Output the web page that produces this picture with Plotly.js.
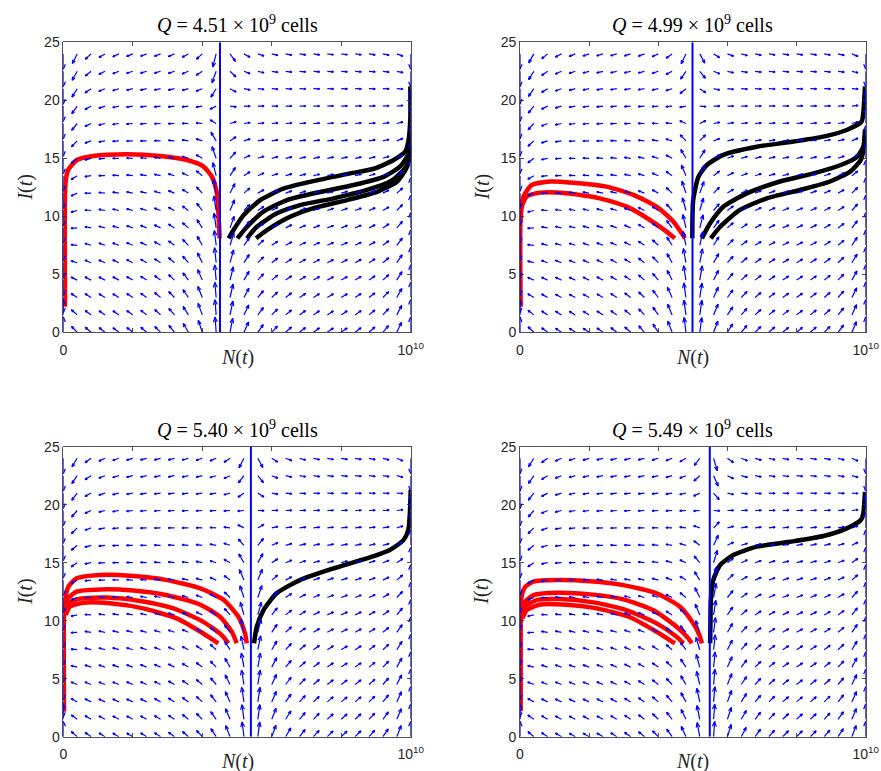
<!DOCTYPE html>
<html><head><meta charset="utf-8">
<script src="https://cdn.plot.ly/plotly-3.0.1.min.js"></script>
<style>body{margin:0;padding:0;background:#fff}#chart{width:881px;height:771px}</style>
</head><body><div id="chart"></div>
<script>
// ================= DATA =================
// N is expressed in units of 10^9 cells, I in model units.
const panelQ = [4.51, 4.99, 5.40, 5.49];
const panelTitles = [
  '<i>Q</i> = 4.51 × 10<sup>9</sup>\u00a0cells',
  '<i>Q</i> = 4.99 × 10<sup>9</sup>\u00a0cells',
  '<i>Q</i> = 5.40 × 10<sup>9</sup>\u00a0cells',
  '<i>Q</i> = 5.49 × 10<sup>9</sup>\u00a0cells'
];
const xTickStep = 2;                        // tick spacing (10^9 cells)
const xLabelEvery = 5;                      // label every 5th tick: 0 and 10^10
const xLabelAlias = {'10': '10<sup>10</sup>'};
const yTickVals = [0, 5, 10, 15, 20, 25];

// direction-field grid (quiver sample points)
const quiverN = [0, 0.4, 0.8, 1.2, 1.6, 2.0, 2.4, 2.8, 3.2, 3.6, 4.0, 4.4, 4.8, 5.2, 5.6, 6.0, 6.4, 6.8, 7.2, 7.6, 8.0, 8.4, 8.8, 9.2, 9.6, 10.0];
const quiverI = [0, 1.5, 3, 4.5, 6, 7.5, 9, 10.5, 12, 13.5, 15, 16.5, 18, 19.5, 21, 22.5, 24];
// model parameters of the direction field
const carryingK = 10;       // 10^10 cells
const restingI = 2.2;       // I level at N = 0
const boostI = 20;          // extra I level driven by tumour
const halfSatN = 0.9;       // half-saturation of the boost
const growthWeight = 50;    // relative weight of dN/dt vs dI/dt

// ---- trajectories ----
// Panel 1 (Q = 4.51e9)
const p1_red1_N = [0.05, 0.05, 0.08, 0.14, 0.39, 0.86, 1.83, 2.79, 3.56, 4.03, 4.28, 4.42, 4.47, 4.50];
const p1_red1_I = [2.2, 12.0, 13.3, 14.0, 14.85, 15.2, 15.34, 15.2, 14.85, 14.3, 13.4, 12.0, 9.97, 8.1];
const p1_blk1_N = [4.76, 4.90, 5.19, 5.67, 6.35, 7.30, 8.26, 8.94, 9.51, 9.85, 9.94, 9.99, 9.99];
const p1_blk1_I = [8.1, 8.82, 10.1, 11.4, 12.4, 13.1, 13.7, 14.1, 14.85, 15.6, 16.6, 18.5, 21.2];
const p1_blk2_N = [5.01, 5.29, 5.76, 6.44, 7.40, 8.36, 9.22, 9.70, 9.94, 9.99];
const p1_blk2_I = [8.1, 9.1, 10.4, 11.4, 12.1, 12.7, 13.4, 14.3, 15.4, 17.0];
const p1_blk3_N = [5.29, 5.57, 6.15, 6.82, 7.78, 8.74, 9.41, 9.80, 9.94, 9.99];
const p1_blk3_I = [8.1, 9.1, 10.26, 10.97, 11.55, 12.27, 13.0, 14.0, 14.7, 16.5];
const p1_blk4_N = [5.55, 5.86, 6.44, 7.20, 8.17, 9.03, 9.61, 9.90, 9.99];
const p1_blk4_I = [8.1, 8.8, 9.83, 10.7, 11.4, 12.1, 13.0, 14.3, 16.0];
// Panel 2 (Q = 4.99e9)
const p2_red1_N = [0.02, 0.02, 0.10, 0.34, 0.87, 1.54, 2.50, 3.28, 3.95, 4.44, 4.68, 4.77];
const p2_red1_I = [2.2, 10.26, 11.7, 12.7, 13.0, 12.9, 12.56, 11.84, 10.83, 9.54, 8.53, 8.1];
const p2_red2_N = [0.02, 0.05, 0.19, 0.58, 1.35, 2.31, 3.09, 3.76, 4.24, 4.48];
const p2_red2_I = [9.5, 10.8, 11.7, 12.04, 11.98, 11.55, 10.83, 9.68, 8.68, 8.1];
const p2_blk1_N = [4.985, 4.99, 5.01, 5.16, 5.40, 5.88, 6.85, 7.81, 8.78, 9.45, 9.88, 9.93, 9.98];
const p2_blk1_I = [8.1, 10.0, 11.4, 13.4, 14.4, 15.3, 16.0, 16.4, 16.87, 17.44, 18.16, 18.9, 21.2];
const p2_blk2_N = [5.26, 5.50, 5.88, 6.56, 7.52, 8.49, 9.26, 9.74, 9.93, 9.98];
const p2_blk2_I = [8.1, 9.4, 10.83, 11.98, 13.0, 13.7, 14.4, 15.1, 16.0, 17.5];
const p2_blk3_N = [5.52, 5.79, 6.36, 7.14, 8.10, 8.97, 9.55, 9.86, 9.95, 9.98];
const p2_blk3_I = [8.1, 9.1, 10.55, 11.55, 12.27, 13.0, 13.85, 14.86, 16.0, 17.0];
// Panel 3 (Q = 5.40e9)
const p3_red1_N = [0.02, 0.02, 0.05, 0.14, 0.38, 1.06, 2.02, 2.98, 3.93, 4.61, 5.04, 5.23, 5.28];
const p3_red1_I = [2.16, 10.5, 11.8, 12.9, 13.65, 13.94, 13.85, 13.5, 12.8, 11.8, 10.34, 8.9, 8.05];
const p3_red2_N = [0.03, 0.10, 0.38, 1.06, 2.02, 2.98, 3.93, 4.51, 4.85, 4.99];
const p3_red2_I = [10.8, 11.8, 12.5, 12.7, 12.6, 12.2, 11.4, 10.34, 9.05, 8.05];
const p3_red3_N = [0.05, 0.14, 0.48, 1.25, 2.21, 3.17, 4.03, 4.56, 4.75];
const p3_red3_I = [10.6, 11.5, 11.9, 12.0, 11.7, 11.06, 9.9, 8.76, 8.05];
const p3_red4_N = [0.07, 0.19, 0.58, 1.34, 2.30, 3.26, 4.03, 4.46];
const p3_red4_I = [10.5, 11.2, 11.55, 11.5, 11.06, 10.2, 8.9, 8.05];
const p3_blk1_N = [5.49, 5.57, 5.76, 6.14, 6.81, 7.77, 8.73, 9.40, 9.79, 9.93, 9.98, 10.0];
const p3_blk1_I = [8.05, 9.48, 10.9, 12.36, 13.5, 14.5, 15.37, 16.1, 16.95, 17.8, 19.5, 21.3];
// Panel 4 (Q = 5.49e9)
const p4_red1_N = [0.02, 0.02, 0.03, 0.14, 0.39, 1.06, 2.03, 2.99, 3.95, 4.63, 5.01, 5.19, 5.26];
const p4_red1_I = [2.2, 10.5, 11.8, 12.9, 13.36, 13.5, 13.4, 13.07, 12.36, 11.2, 9.77, 8.76, 8.05];
const p4_red2_N = [0.03, 0.10, 0.39, 1.06, 2.03, 2.99, 3.86, 4.53, 4.87, 4.97];
const p4_red2_I = [10.6, 11.5, 12.2, 12.4, 12.27, 11.84, 10.9, 9.48, 8.48, 8.05];
const p4_red3_N = [0.05, 0.14, 0.48, 1.16, 2.12, 3.09, 3.95, 4.53, 4.73];
const p4_red3_I = [10.4, 11.2, 11.78, 11.87, 11.58, 10.9, 9.77, 8.62, 8.05];
const p4_red4_N = [0.07, 0.19, 0.58, 1.25, 2.22, 3.18, 3.95, 4.48];
const p4_red4_I = [10.2, 10.9, 11.4, 11.4, 11.06, 10.3, 9.05, 8.05];
const p4_blk1_N = [5.50, 5.51, 5.52, 5.59, 5.79, 6.17, 6.85, 7.81, 8.78, 9.45, 9.86, 9.93, 9.98];
const p4_blk1_I = [8.05, 10.0, 11.8, 13.5, 14.8, 15.66, 16.38, 16.8, 17.3, 17.96, 18.68, 19.25, 21.1];

const redCurves = [
  [[p1_red1_N, p1_red1_I]],
  [[p2_red1_N, p2_red1_I], [p2_red2_N, p2_red2_I]],
  [[p3_red1_N, p3_red1_I], [p3_red2_N, p3_red2_I], [p3_red3_N, p3_red3_I], [p3_red4_N, p3_red4_I]],
  [[p4_red1_N, p4_red1_I], [p4_red2_N, p4_red2_I], [p4_red3_N, p4_red3_I], [p4_red4_N, p4_red4_I]]
];
const blackCurves = [
  [[p1_blk1_N, p1_blk1_I], [p1_blk2_N, p1_blk2_I], [p1_blk3_N, p1_blk3_I], [p1_blk4_N, p1_blk4_I]],
  [[p2_blk1_N, p2_blk1_I], [p2_blk2_N, p2_blk2_I], [p2_blk3_N, p2_blk3_I]],
  [[p3_blk1_N, p3_blk1_I]],
  [[p4_blk1_N, p4_blk1_I]]
];

// ================= LAYOUT =================
const W = 881, H = 771;
const colPx = [[63.3, 410.7], [520, 865.7]];
const rowPx = [[42.3, 332.3], [446.7, 736.7]];
const xRange = [0, 10], yRange = [0, 25];

function fieldVec(N, I, Q) {
  const n = N / carryingK;
  const u = growthWeight * n * (1 - n) * (N - Q) / carryingK;
  const iStar = restingI + boostI * N / (N + halfSatN);
  const v = (iStar - I) / 25;
  return [u, v];
}

const traces = [];
const annotations = [];
const layout = {
  width: W, height: H,
  margin: {l: 0, r: 0, t: 0, b: 0},
  paper_bgcolor: '#ffffff', plot_bgcolor: '#ffffff',
  showlegend: false,
  annotations: annotations
};

const LX = 6.2, LY = 15.5;  // arrow pixel extent for pure horizontal / vertical
for (let p = 0; p < 4; p++) {
  const col = p % 2, row = Math.floor(p / 2);
  const xs = colPx[col], ys = rowPx[row];
  const sfx = p === 0 ? '' : String(p + 1);
  const xName = 'x' + sfx, yName = 'y' + sfx;
  const pxPerN = (xs[1] - xs[0]) / (xRange[1] - xRange[0]);
  const pxPerI = (ys[1] - ys[0]) / (yRange[1] - yRange[0]);
  const axFont = {family: 'Liberation Sans, Arial, sans-serif', size: 14, color: '#262626'};
  const common = {
    ticks: 'inside', ticklen: 4, tickwidth: 0.8, tickcolor: '#262626',
    showline: true, linecolor: '#262626', linewidth: 0.8, mirror: 'ticks',
    showgrid: false, zeroline: false, tickfont: axFont, fixedrange: true
  };
  layout['xaxis' + sfx] = Object.assign({}, common, {
    domain: [xs[0] / W, xs[1] / W], anchor: yName, range: xRange,
    tickmode: 'linear', tick0: 0, dtick: xTickStep, ticklabelstep: xLabelEvery,
    labelalias: xLabelAlias, ticklabelstandoff: 5
  });
  layout['yaxis' + sfx] = Object.assign({}, common, {
    domain: [1 - ys[1] / H, 1 - ys[0] / H], anchor: xName, range: yRange,
    tickmode: 'array', tickvals: yTickVals, ticktext: yTickVals.map(String)
  });

  const Q = panelQ[p];
  // trajectories
  redCurves[p].forEach(c => traces.push({
    type: 'scatter', mode: 'lines', x: c[0], y: c[1], xaxis: xName, yaxis: yName,
    line: {color: '#ff0000', width: 4.5, shape: 'spline', smoothing: 0.6}, cliponaxis: false, hoverinfo: 'skip'
  }));
  blackCurves[p].forEach(c => traces.push({
    type: 'scatter', mode: 'lines', x: c[0], y: c[1], xaxis: xName, yaxis: yName,
    line: {color: '#000000', width: 4.5, shape: 'spline', smoothing: 0.6}, cliponaxis: false, hoverinfo: 'skip'
  }));

  // quiver arrows
  const qx = [], qy = [];
  quiverN.forEach(N => quiverI.forEach(I => {
    const [u, v] = fieldVec(N, I, Q);
    const m = Math.hypot(u, v);
    if (m < 1e-9) return;
    const dxp = LX * u / m, dyp = LY * v / m;  // pixel vector
    const L = Math.hypot(dxp, dyp);
    const ex = dxp / L, ey = dyp / L;
    const tipX = N + dxp / pxPerN, tipY = I + dyp / pxPerI;
    const back = 0.33 * L, side = 0.13 * L;
    const h1x = dxp - back * ex - side * ey, h1y = dyp - back * ey + side * ex;
    const h2x = dxp - back * ex + side * ey, h2y = dyp - back * ey - side * ex;
    qx.push(N, tipX, null, N + h1x / pxPerN, tipX, N + h2x / pxPerN, null);
    qy.push(I, tipY, null, I + h1y / pxPerI, tipY, I + h2y / pxPerI, null);
  }));
  traces.push({
    type: 'scatter', mode: 'lines', x: qx, y: qy, xaxis: xName, yaxis: yName,
    line: {color: '#0000ff', width: 1.2}, cliponaxis: false, hoverinfo: 'skip', connectgaps: false
  });
  // threshold line N = Q
  traces.push({
    type: 'scatter', mode: 'lines', x: [Q, Q], y: yRange, xaxis: xName, yaxis: yName,
    line: {color: '#0000ff', width: 2}, cliponaxis: false, hoverinfo: 'skip'
  });

  const serif = 'Liberation Serif, Times New Roman, serif';
  const cx = (xs[0] + xs[1]) / 2 / W;
  annotations.push({
    text: panelTitles[p], xref: 'paper', yref: 'paper', x: cx, y: 1 - (ys[0] - 18) / H,
    xanchor: 'center', yanchor: 'middle', showarrow: false,
    font: {family: serif, size: 20, color: '#000'}
  });
  annotations.push({
    text: '<i>N</i>(<i>t</i>)', xref: 'paper', yref: 'paper', x: cx, y: 1 - (ys[1] + 25) / H,
    xanchor: 'center', yanchor: 'middle', showarrow: false,
    font: {family: serif, size: 20, color: '#262626'}
  });
  annotations.push({
    text: '<i>I</i>(<i>t</i>)', xref: 'paper', yref: 'paper', x: (xs[0] - 38) / W, y: 1 - (ys[0] + ys[1]) / 2 / H,
    xanchor: 'center', yanchor: 'middle', showarrow: false, textangle: -90,
    font: {family: serif, size: 20, color: '#262626'}
  });
}

Plotly.newPlot('chart', traces, layout, {staticPlot: true, displayModeBar: false});
</script>
</body></html>
